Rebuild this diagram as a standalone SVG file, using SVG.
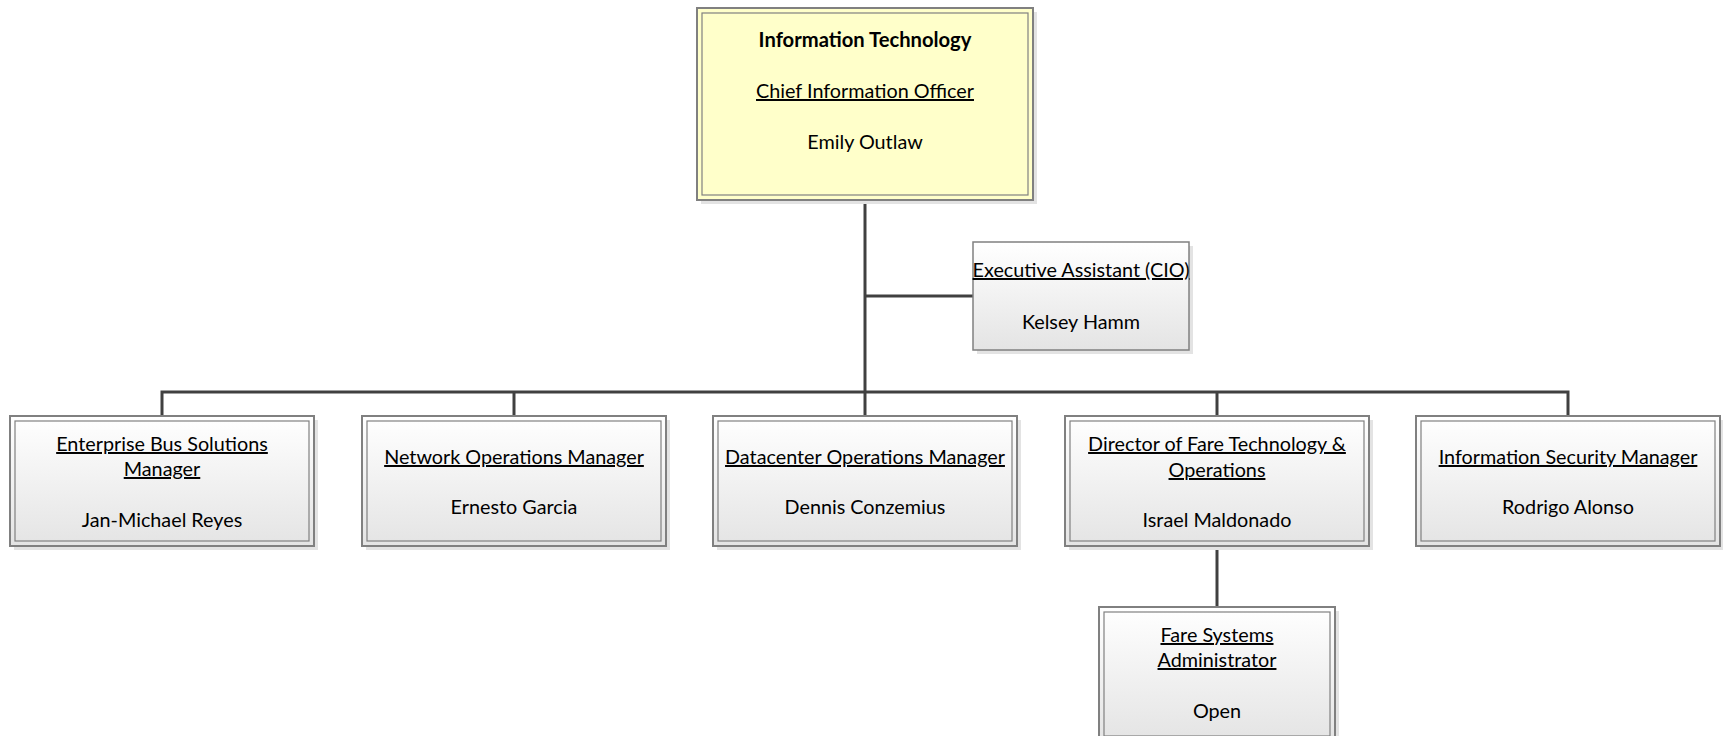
<svg xmlns="http://www.w3.org/2000/svg" width="1723" height="736" viewBox="0 0 1723 736">
<defs>
<linearGradient id="g" x1="0" y1="0" x2="0" y2="1">
<stop offset="0" stop-color="#FFFFFF"/>
<stop offset="1" stop-color="#E4E4E4"/>
</linearGradient>
<style>
.sh{fill:#E3E3E3;}
.outer{stroke:#808080;stroke-width:2;}
.inner{fill:none;stroke:#808080;stroke-width:1.2;}
.box{fill:url(#g);}
.top{fill:#FFFFCA;}
.conn{stroke:#404040;stroke-width:3;fill:none;}
text{font-family:Lato,"Liberation Sans",sans-serif;font-size:19.8px;fill:#000;text-anchor:middle;}
.u{text-decoration:underline;}
.b{font-weight:bold;font-size:20.2px;}
</style>
</defs>
<rect width="1723" height="736" fill="#FFFFFF"/>
<g id="connectors">
<path class="conn" d="M865 200 V416"/>
<path class="conn" d="M865 296 H973"/>
<path class="conn" d="M162 416 V392 H1568 V416"/>
<path class="conn" d="M514 392 V416"/>
<path class="conn" d="M1217 392 V416"/>
<path class="conn" d="M1217 546 V607"/>
</g>
<g id="it">
<rect class="sh" x="701" y="12" width="336" height="192"/>
<rect class="top outer" x="697" y="8" width="336" height="192"/>
<rect class="inner" x="702" y="13" width="326" height="182"/>
<text class="b" x="865" y="47">Information Technology</text>
<text class="u" x="865" y="98">Chief Information Officer</text>
<text x="865" y="149">Emily Outlaw</text>
</g>
<g id="assistant">
<rect class="sh" x="977" y="246" width="216" height="108"/>
<rect class="box" stroke="#808080" stroke-width="1.5" x="973" y="242" width="216" height="108"/>
<text class="u" x="1081" y="277">Executive Assistant (CIO)</text>
<text x="1081" y="329">Kelsey Hamm</text>
</g>
<g id="enterprise">
<rect class="sh" x="14" y="420" width="304" height="130"/>
<rect class="box outer" x="10" y="416" width="304" height="130"/>
<rect class="inner" x="15" y="421" width="294" height="120"/>
<text class="u" x="162" y="451">Enterprise Bus Solutions</text>
<text class="u" x="162" y="476">Manager</text>
<text x="162" y="527">Jan-Michael Reyes</text>
</g>
<g id="network">
<rect class="sh" x="366" y="420" width="304" height="130"/>
<rect class="box outer" x="362" y="416" width="304" height="130"/>
<rect class="inner" x="367" y="421" width="294" height="120"/>
<text class="u" x="514" y="464">Network Operations Manager</text>
<text x="514" y="514">Ernesto Garcia</text>
</g>
<g id="datacenter">
<rect class="sh" x="717" y="420" width="304" height="130"/>
<rect class="box outer" x="713" y="416" width="304" height="130"/>
<rect class="inner" x="718" y="421" width="294" height="120"/>
<text class="u" x="865" y="464">Datacenter Operations Manager</text>
<text x="865" y="514">Dennis Conzemius</text>
</g>
<g id="director">
<rect class="sh" x="1069" y="420" width="304" height="130"/>
<rect class="box outer" x="1065" y="416" width="304" height="130"/>
<rect class="inner" x="1070" y="421" width="294" height="120"/>
<text class="u" x="1217" y="451">Director of Fare Technology &amp;</text>
<text class="u" x="1217" y="477">Operations</text>
<text x="1217" y="527">Israel Maldonado</text>
</g>
<g id="security">
<rect class="sh" x="1420" y="420" width="304" height="130"/>
<rect class="box outer" x="1416" y="416" width="304" height="130"/>
<rect class="inner" x="1421" y="421" width="294" height="120"/>
<text class="u" x="1568" y="464">Information Security Manager</text>
<text x="1568" y="514">Rodrigo Alonso</text>
</g>
<g id="fare-systems">
<rect class="sh" x="1103" y="611" width="236" height="134"/>
<rect class="box outer" x="1099" y="607" width="236" height="134"/>
<rect class="inner" x="1104" y="612" width="226" height="124"/>
<text class="u" x="1217" y="642">Fare Systems</text>
<text class="u" x="1217" y="667">Administrator</text>
<text x="1217" y="718">Open</text>
</g>
</svg>
